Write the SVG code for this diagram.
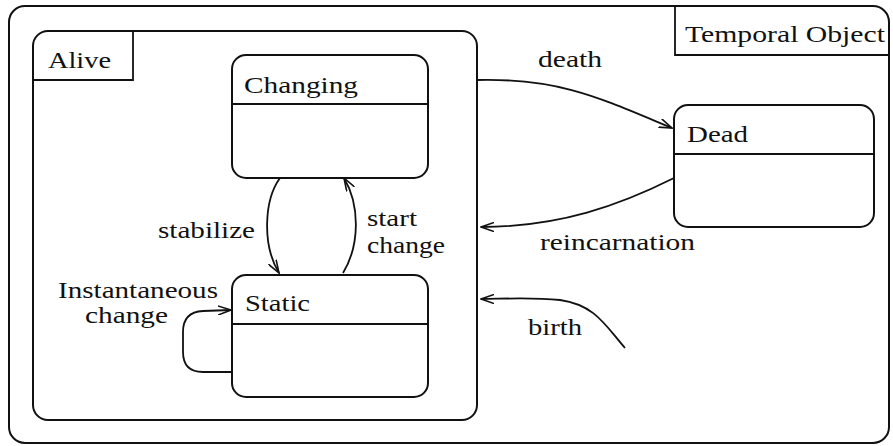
<svg xmlns="http://www.w3.org/2000/svg" width="893" height="446" viewBox="0 0 893 446">
<defs>
<style>
.box{fill:none;stroke:#111;stroke-width:2}
.ln{fill:none;stroke:#111;stroke-width:1.8}
.t{font-family:'Liberation Serif','Times New Roman','DejaVu Serif',serif;font-size:24px;fill:#111}
.c{fill:none;stroke:#111;stroke-width:1.8;marker-end:url(#arr)}
</style>
<marker id="arr" viewBox="0 0 14 10" refX="13" refY="5" markerWidth="14" markerHeight="10" markerUnits="userSpaceOnUse" orient="auto">
<path d="M0,0.5 L13,5 L0,9.5" fill="none" stroke="#111" stroke-width="1.6"/>
</marker>
</defs>
<rect width="893" height="446" fill="#fff"/>
<g id="temporal-object">
<rect class="box" x="9" y="6" width="880" height="437" rx="16"/>
<path class="ln" d="M675 6 V55 H889"/>
<text class="t" font-family="Liberation Serif, DejaVu Serif, serif" x="685" y="42" textLength="200" lengthAdjust="spacingAndGlyphs">Temporal Object</text>
</g>
<g id="alive">
<rect class="box" x="33" y="31" width="444" height="389" rx="15"/>
<path class="ln" d="M33 80 H133 V31"/>
<text class="t" x="48" y="68" textLength="63" lengthAdjust="spacingAndGlyphs">Alive</text>
</g>
<g id="changing">
<rect class="box" x="232" y="55" width="196" height="123" rx="14"/>
<line class="ln" x1="232" y1="104" x2="428" y2="104"/>
<text class="t" x="244" y="93" textLength="114" lengthAdjust="spacingAndGlyphs">Changing</text>
</g>
<g id="static">
<rect class="box" x="232" y="275" width="196" height="122" rx="14"/>
<line class="ln" x1="232" y1="324" x2="428" y2="324"/>
<text class="t" x="245" y="311" textLength="65" lengthAdjust="spacingAndGlyphs">Static</text>
</g>
<g id="dead">
<rect class="box" x="674" y="105" width="200" height="122" rx="14"/>
<line class="ln" x1="674" y1="154" x2="874" y2="154"/>
<text class="t" x="687" y="142" textLength="61" lengthAdjust="spacingAndGlyphs">Dead</text>
</g>
<g id="connectors">
<path class="c" d="M280 178 C264 200 262 245 279 273"/>
<path class="c" d="M343 273 C360 245 360 205 344 178"/>
<path class="c" d="M232 372 H203 Q183 372 183 352 V332 Q183 312 203 311 L231 310"/>
<path class="c" d="M477 80 C560 78 600 98 672 128"/>
<path class="c" d="M674 178 C620 205 560 227 481 227"/>
<path class="c" d="M625 348 C605 325 595 305 560 300 C530 297 500 299 481 299"/>
</g>
<g id="labels">
<text class="t" x="158" y="238" textLength="97" lengthAdjust="spacingAndGlyphs">stabilize</text>
<text class="t" x="367" y="226" textLength="50" lengthAdjust="spacingAndGlyphs">start</text>
<text class="t" x="367" y="253" textLength="78" lengthAdjust="spacingAndGlyphs">change</text>
<text class="t" x="58" y="298" textLength="160" lengthAdjust="spacingAndGlyphs">Instantaneous</text>
<text class="t" x="85" y="323" textLength="83" lengthAdjust="spacingAndGlyphs">change</text>
<text class="t" x="538" y="67" textLength="64" lengthAdjust="spacingAndGlyphs">death</text>
<text class="t" x="540" y="250" textLength="155" lengthAdjust="spacingAndGlyphs">reincarnation</text>
<text class="t" x="528" y="335" textLength="54" lengthAdjust="spacingAndGlyphs">birth</text>
</g>
</svg>
